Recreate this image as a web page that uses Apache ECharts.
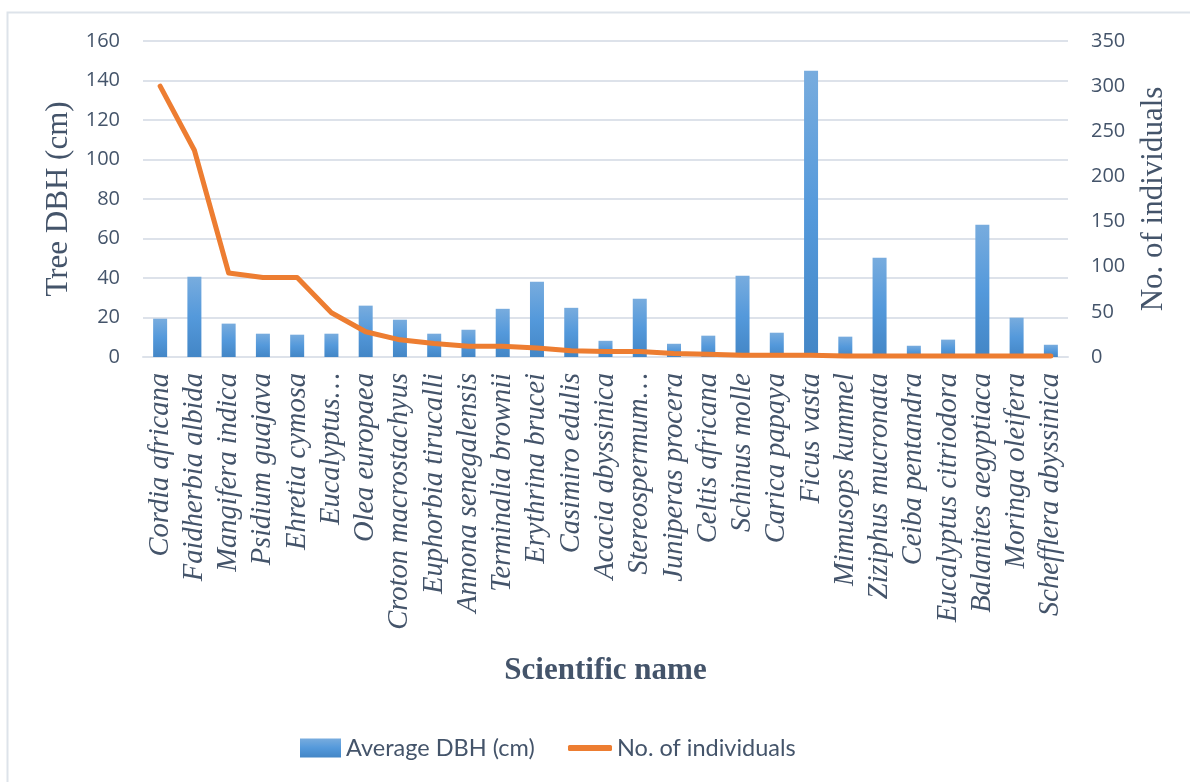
<!DOCTYPE html>
<html>
<head>
<meta charset="utf-8">
<script src="https://cdn.jsdelivr.net/npm/echarts@6/dist/echarts.min.js"></script>
<style>
  html, body { margin: 0; padding: 0; background: #ffffff; }
  #chart { width: 1190px; height: 782px; }
</style>
</head>
<body>
<div id="chart"></div>
<script>
// Tree species, ordered by number of individuals
const species = [
  'Cordia africana', 'Faidherbia albida', 'Mangifera indica', 'Psidium guajava',
  'Ehretia cymosa', 'Eucalyptus…', 'Olea europaea', 'Croton macrostachyus',
  'Euphorbia tirucalli', 'Annona senegalensis', 'Terminalia brownii', 'Erythrina brucei',
  'Casimiro edulis', 'Acacia abyssinica', 'Stereospermum…', 'Juniperas procera',
  'Celtis africana', 'Schinus molle', 'Carica papaya', 'Ficus vasta',
  'Mimusops kummel', 'Ziziphus mucronata', 'Ceiba pentandra', 'Eucalyptus citriodora',
  'Balanites aegyptiaca', 'Moringa oleifera', 'Schefflera abyssinica'
];

// Average diameter at breast height (cm)
const avgDBH = [
  19.4, 40.6, 16.9, 11.8, 11.3, 11.8, 26.0, 18.9,
  11.8, 13.8, 24.4, 38.1, 24.9, 8.2, 29.5, 6.7,
  10.8, 41.1, 12.3, 144.9, 10.3, 50.3, 5.7, 8.8,
  67.0, 19.9, 6.2
];

// Number of individuals counted
const individuals = [
  300, 229, 93, 88, 88, 49, 28, 19,
  15, 12, 12, 10, 7, 6, 6, 4,
  3, 2, 2, 2, 1, 1, 1, 1,
  1, 1, 1
];

const textColor = '#44546a';
const gridColor = '#dde2ea';
const legendText = { color: textColor, fontFamily: 'Lato', fontSize: 23.5, lineHeight: 26 };

const chart = echarts.init(document.getElementById('chart'));

chart.setOption({
  backgroundColor: '#ffffff',
  animation: false,
  graphic: [{
    type: 'rect',
    shape: { x: 7.5, y: 12.5, width: 1300, height: 900 },
    style: { fill: 'none', stroke: '#dde3ea', lineWidth: 2 },
    silent: true,
    z: -1
  }],
  grid: { left: 143, right: 122, top: 41, bottom: 425 },
  legend: [{
    left: 295,
    top: 730,
    itemWidth: 41,
    itemHeight: 19,
    textStyle: legendText,
    data: [{ name: 'Average DBH (cm)', icon: 'rect' }]
  }, {
    left: 563,
    top: 730,
    itemWidth: 44,
    itemHeight: 6,
    textStyle: legendText,
    data: [{ name: 'No. of individuals', icon: 'roundRect' }]
  }],
  xAxis: {
    type: 'category',
    data: species,
    name: 'Scientific name',
    nameLocation: 'middle',
    nameGap: 298,
    nameTextStyle: {
      color: textColor, fontFamily: 'Liberation Serif', fontWeight: 'bold', fontSize: 31
    },
    axisLine: { show: true, lineStyle: { color: gridColor, width: 2 } },
    axisTick: { show: false },
    axisLabel: {
      rotate: 90,
      interval: 0,
      margin: 16,
      color: textColor,
      fontFamily: 'Liberation Serif',
      fontStyle: 'italic',
      fontSize: 28.5
    }
  },
  yAxis: [{
    type: 'value',
    min: 0, max: 160, interval: 20,
    name: 'Tree DBH (cm)',
    nameLocation: 'middle',
    nameRotate: 90,
    nameGap: 66,
    nameTextStyle: { color: textColor, fontFamily: 'Liberation Serif', fontSize: 31 },
    axisLine: { show: false },
    axisTick: { show: false },
    axisLabel: { margin: 23, color: textColor, fontFamily: 'Open Sans', fontSize: 20 },
    splitLine: { lineStyle: { color: gridColor, width: 2 } }
  }, {
    type: 'value',
    min: 0, max: 350, interval: 50,
    name: 'No. of individuals',
    nameLocation: 'middle',
    nameRotate: 90,
    nameGap: 70,
    nameTextStyle: { color: textColor, fontFamily: 'Liberation Serif', fontSize: 31 },
    axisLine: { show: false },
    axisTick: { show: false },
    axisLabel: { margin: 23, color: textColor, fontFamily: 'Open Sans', fontSize: 20 },
    splitLine: { show: false }
  }],
  series: [{
    name: 'Average DBH (cm)',
    type: 'bar',
    yAxisIndex: 0,
    data: avgDBH,
    barWidth: 14,
    itemStyle: {
      color: new echarts.graphic.LinearGradient(0, 0, 0, 1, [
        { offset: 0, color: '#78acde' },
        { offset: 0.5, color: '#5499db' },
        { offset: 1, color: '#4386c6' }
      ])
    }
  }, {
    name: 'No. of individuals',
    type: 'line',
    yAxisIndex: 1,
    data: individuals,
    symbol: 'none',
    lineStyle: { color: '#ed7d31', width: 5, cap: 'round', join: 'round' },
    itemStyle: { color: '#ed7d31' },
    z: 3
  }]
});
</script>
</body>
</html>
